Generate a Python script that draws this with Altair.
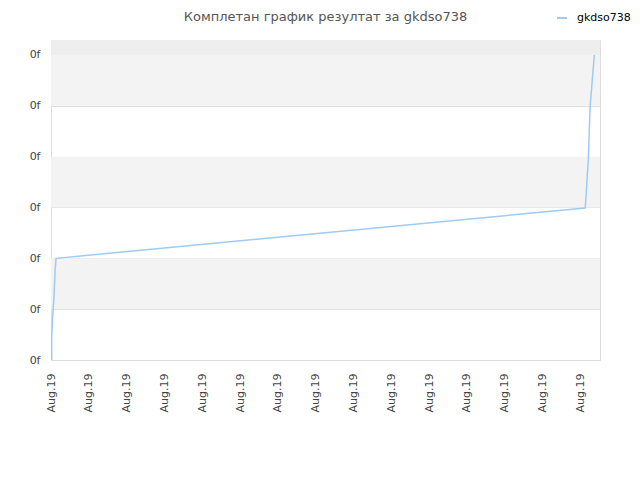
import altair as alt
import pandas as pd

# line data (x in tick units, y in gridline units)
xs = [0.019, 0.019, 0.045, 0.079, 0.106, 0.132, 14.13, 14.21, 14.26, 14.37]
ys = [0.0, 0.49, 0.87, 1.24, 1.73, 2.0, 2.99, 3.93, 5.0, 6.0]
series = "gkdso738"
x_ticks = list(range(15))
y_ticks = list(range(7))
x_label = "Aug.19"
y_label = "0f"
band_start = [1, 3, 5]
band_end = [2, 4, 6]
top_start = [6]
top_end = [6.295]

X_DOMAIN = [0, 14.52]
Y_DOMAIN = [0, 6.295]

line_df = pd.DataFrame({"x": xs, "y": ys, "s": [series] * len(xs)})
band_df = pd.DataFrame({"y": band_start, "y2": band_end})
top_df = pd.DataFrame({"y": top_start, "y2": top_end})

yscale = alt.Scale(domain=Y_DOMAIN, nice=False, zero=False)
xscale = alt.Scale(domain=X_DOMAIN, nice=False, zero=False)

yaxis = alt.Axis(values=y_ticks, labelExpr=f"'{y_label}'", grid=True,
                 gridColor="#dddddd", ticks=False, domain=False, labelPadding=11,
                 labelFontSize=11, labelColor="#444444", labelFont="DejaVu Sans")

top = alt.Chart(top_df).mark_rect(color="#eeeeee").encode(
    y=alt.Y("y:Q", scale=yscale, title=None, axis=yaxis),
    y2="y2:Q",
)
bands = alt.Chart(band_df).mark_rect(color="#f3f3f3").encode(
    y=alt.Y("y:Q", scale=yscale, title=None, axis=yaxis),
    y2="y2:Q",
)

line = alt.Chart(line_df).mark_line(strokeWidth=1.5, interpolate="linear").encode(
    x=alt.X("x:Q", scale=xscale, title=None,
            axis=alt.Axis(values=x_ticks, labelExpr=f"'{x_label}'", labelAngle=270,
                          grid=False, ticks=False, domain=False, labelPadding=13,
                          labelFontSize=11, labelColor="#444444", labelFont="DejaVu Sans")),
    y=alt.Y("y:Q", scale=yscale, title=None, axis=yaxis),
    color=alt.Color("s:N", scale=alt.Scale(range=["#9ecaf4"]), title=None,
                    legend=alt.Legend(orient="none", legendX=505, legendY=-28,
                                      symbolType="stroke", symbolStrokeWidth=2,
                                      symbolSize=100, labelFontSize=11, labelOffset=9,
                                      labelFont="DejaVu Sans", labelColor="#000000")),
)

chart = alt.layer(top, bands, line).properties(
    width=549,
    height=320,
    autosize=alt.AutoSizeParams(type="none"),
    padding={"left": 43, "top": 32, "right": 32, "bottom": 112},
    title=alt.TitleParams("Комплетан график резултат за gkdso738", fontSize=13,
                          font="DejaVu Sans", fontWeight="normal", color="#555555",
                          anchor="middle", offset=0, dy=12),
).configure_view(stroke="#dddddd").configure(background="white")

chart.save("out.html", embed_options={"renderer": "svg", "actions": False})
